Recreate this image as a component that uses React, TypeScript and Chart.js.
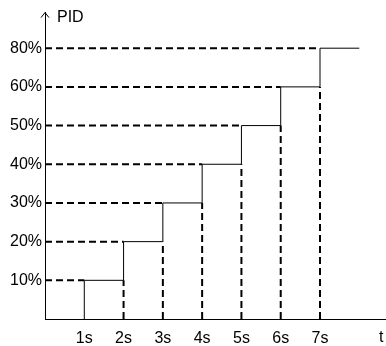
import React, { useEffect, useRef } from "react";
import { Chart, registerables } from "chart.js";

Chart.register(...registerables);

// Step times (s) and PID levels
const stepTimes = [1, 2, 3, 4, 5, 6, 7];
const levelLabels = ["10%", "20%", "30%", "40%", "50%", "60%", "80%"];
const timeLabels = ["1s", "2s", "3s", "4s", "5s", "6s", "7s"];
const lastTime = 8; // end of final plateau
const xMax = 8.68;
const yMax = 7.92;

const FONT = "'Liberation Sans', Arial, sans-serif";

export default function App() {
  const ref = useRef<HTMLCanvasElement | null>(null);

  useEffect(() => {
    document.body.style.margin = "0";
    const canvas = ref.current;
    if (!canvas) return;

    // solid staircase
    const stairs: { x: number; y: number }[] = [];
    stepTimes.forEach((t, i) => {
      stairs.push({ x: t, y: i });
      stairs.push({ x: t, y: i + 1 });
    });
    stairs.push({ x: lastTime, y: stepTimes.length });

    // dashed horizontal guides from y axis to each step
    const hGuides: { x: number; y: number | null }[] = [];
    stepTimes.forEach((t, i) => {
      hGuides.push({ x: 0, y: i + 1 });
      hGuides.push({ x: t, y: i + 1 });
      hGuides.push({ x: t, y: null });
    });

    // dashed vertical guides from x axis to previous level
    const vGuides: { x: number; y: number | null }[] = [];
    stepTimes.forEach((t, i) => {
      if (i === 0) return;
      vGuides.push({ x: t, y: 0 });
      vGuides.push({ x: t, y: i });
      vGuides.push({ x: t, y: null });
    });

    const extras = {
      id: "extras",
      afterDraw(chart: any) {
        const ctx = chart.ctx;
        const area = chart.chartArea;
        ctx.save();
        ctx.strokeStyle = "#000";
        ctx.lineWidth = 1;
        ctx.beginPath();
        ctx.moveTo(area.left - 4, area.top + 5);
        ctx.lineTo(area.left, area.top);
        ctx.lineTo(area.left + 4, area.top + 5);
        ctx.stroke();
        ctx.fillStyle = "#000";
        ctx.font = `16px ${FONT}`;
        ctx.textBaseline = "middle";
        ctx.textAlign = "left";
        ctx.fillText("PID", area.left + 12, area.top + 5);
        ctx.textBaseline = "alphabetic";
        ctx.fillText("t", area.right - 7, chart.height - 4);
        ctx.restore();
      },
    };

    const chart = new Chart(canvas, {
      type: "line",
      data: {
        datasets: [
          {
            data: hGuides as any,
            borderColor: "#000",
            borderWidth: 2,
            borderDash: [7, 4],
            pointRadius: 0,
            spanGaps: false,
          },
          {
            data: vGuides as any,
            borderColor: "#000",
            borderWidth: 2,
            borderDash: [7, 4],
            pointRadius: 0,
            spanGaps: false,
          },
          {
            data: stairs,
            borderColor: "#000",
            borderWidth: 1,
            pointRadius: 0,
          },
        ],
      },
      plugins: [extras],
      options: {
        responsive: false,
        animation: false,
        layout: { padding: { top: 10, right: 0, left: 0, bottom: 0 } },
        plugins: { legend: { display: false }, tooltip: { enabled: false } },
        scales: {
          x: {
            type: "linear",
            min: 0,
            max: xMax,
            grid: { display: false, drawTicks: false },
            border: { display: true, color: "#000", width: 1 },
            afterBuildTicks: (s: any) => {
              s.ticks = stepTimes.map((v) => ({ value: v }));
            },
            afterFit: (s: any) => {
              s.height = 27;
            },
            ticks: {
              autoSkip: false,
              maxRotation: 0,
              padding: 10,
              color: "#000",
              font: { size: 16, family: FONT },
              callback: (v: any) => {
                const i = stepTimes.indexOf(Number(v));
                return i >= 0 ? timeLabels[i] : "";
              },
            },
          },
          y: {
            type: "linear",
            min: 0,
            max: yMax,
            grid: { display: false, drawTicks: false },
            border: { display: true, color: "#000", width: 1 },
            afterBuildTicks: (s: any) => {
              s.ticks = levelLabels.map((_, i) => ({ value: i + 1 }));
            },
            afterFit: (s: any) => {
              s.width = 45;
            },
            ticks: {
              autoSkip: false,
              padding: 3,
              color: "#000",
              font: { size: 16, family: FONT },
              callback: (v: any) => levelLabels[Number(v) - 1] ?? "",
            },
          },
        },
      },
    });
    return () => chart.destroy();
  }, []);

  return (
    <div style={{ width: 386, height: 346 }}>
      <canvas ref={ref} width={386} height={346} />
    </div>
  );
}
